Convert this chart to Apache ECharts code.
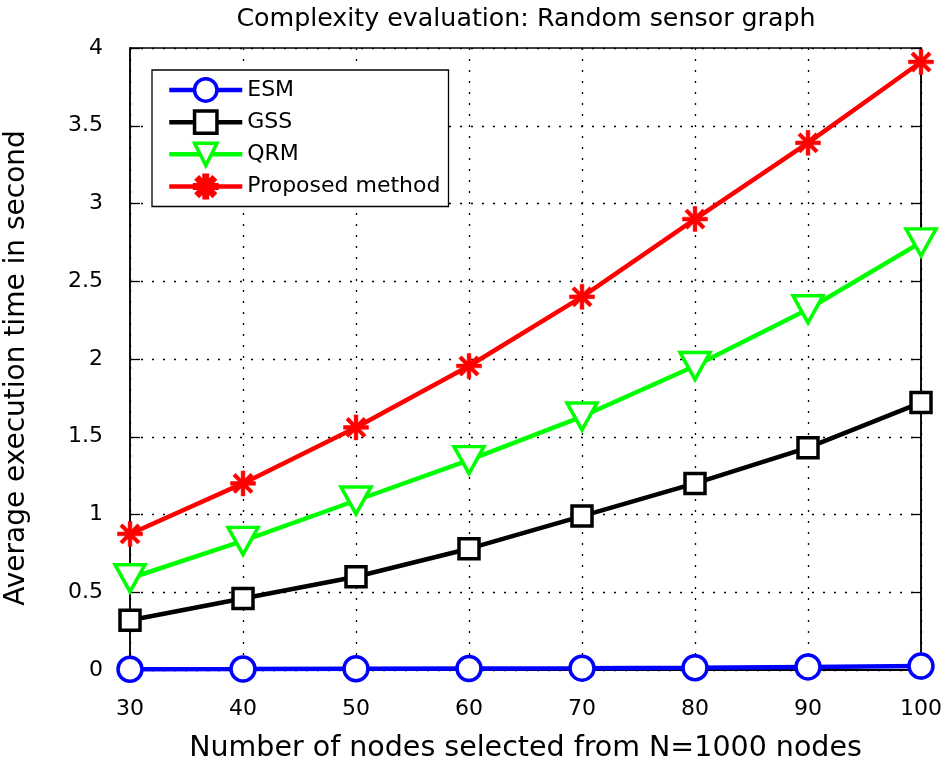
<!DOCTYPE html>
<html>
<head>
<meta charset="utf-8">
<script src="https://cdn.jsdelivr.net/npm/echarts@6/dist/echarts.min.js"></script>
<style>html,body{margin:0;padding:0;background:#fff}#c{width:945px;height:771px}</style>
</head>
<body>
<div id="c"></div>
<script>
const categories = [30, 40, 50, 60, 70, 80, 90, 100];
const esm = [0.005, 0.006, 0.008, 0.010, 0.012, 0.015, 0.020, 0.025];
const gss = [0.32, 0.46, 0.60, 0.78, 0.99, 1.20, 1.43, 1.72];
const qrm = [0.59, 0.83, 1.09, 1.35, 1.63, 1.955, 2.32, 2.75];
const proposed = [0.875, 1.20, 1.56, 1.955, 2.40, 2.90, 3.39, 3.91];
const seriesNames = ['ESM', 'GSS', 'QRM', 'Proposed method'];

const font = '"DejaVu Sans", Verdana, sans-serif';
const asterisk = 'path://M8.5 0L11.5 0L11.5 20L8.5 20Z M0 8.5L20 8.5L20 11.5L0 11.5Z M3.99 1.87L18.13 16.01L16.01 18.13L1.87 3.99Z M18.13 3.99L3.99 18.13L1.87 16.01L16.01 1.87Z';

function pts(arr){ return categories.map((x,i)=>[x, arr[i]]); }

const chart = echarts.init(document.getElementById('c'), null, {renderer:'canvas'});
const tickStyle = {show:true, inside:true, length:10, lineStyle:{color:'#000', width:1.3}};
chart.setOption({
  animation:false,
  backgroundColor:'#fff',
  title:{text:'Complexity evaluation: Random sensor graph', left:521, textAlign:'center', top:2,
    textStyle:{fontFamily:font, fontSize:25.3, fontWeight:'normal', color:'#000'}},
  grid:{left:130, right:24, top:48, bottom:101, show:true, borderColor:'#000', borderWidth:1.5,
    backgroundColor:'transparent', containLabel:false, outerBoundsMode:'none'},
  legend:{
    orient:'vertical', left:152, top:70,
    backgroundColor:'#fff', borderColor:'#000', borderWidth:1.3,
    padding:[7, 8, 7, 15], itemGap:6.3, itemWidth:73, itemHeight:28,
    textStyle:{fontFamily:font, fontSize:22, color:'#000'},
    lineStyle:{width:4.5},
    itemStyle:{borderWidth:3.5},
    data:seriesNames
  },
  xAxis:[{
    type:'value', min:30, max:100, interval:10, position:'bottom',
    name:'Number of nodes selected from N=1000 nodes', nameLocation:'middle', nameGap:64,
    nameTextStyle:{fontFamily:font, fontSize:28.5, color:'#000'},
    axisLine:{show:true, lineStyle:{color:'#000', width:1.5}},
    axisTick:tickStyle,
    axisLabel:{fontFamily:font, fontSize:22, color:'#000', margin:28},
    splitLine:{show:true, lineStyle:{color:'#000', width:1.3, type:[2,9]}}
  },{
    type:'value', min:30, max:100, interval:10, position:'top',
    axisLine:{show:true, lineStyle:{color:'#000', width:1.5}},
    axisTick:tickStyle, axisLabel:{show:false}, splitLine:{show:false}
  }],
  yAxis:[{
    type:'value', min:0, max:4, interval:0.5, position:'left',
    name:'Average execution time in second', nameLocation:'middle', nameGap:99,
    nameTextStyle:{fontFamily:font, fontSize:28, color:'#000', padding:[0, 18, 0, 0]},
    axisLine:{show:true, lineStyle:{color:'#000', width:1.5}},
    axisTick:tickStyle,
    axisLabel:{fontFamily:font, fontSize:22, color:'#000', margin:27, formatter:v=>String(v)},
    splitLine:{show:true, lineStyle:{color:'#000', width:1.3, type:[2,9]}}
  },{
    type:'value', min:0, max:4, interval:0.5, position:'right',
    axisLine:{show:true, lineStyle:{color:'#000', width:1.5}},
    axisTick:tickStyle, axisLabel:{show:false}, splitLine:{show:false}
  }],
  series:[
    {name:seriesNames[0], type:'line', data:pts(esm), symbol:'circle', symbolSize:24, z:5,
      lineStyle:{color:'#0000ff', width:4.5}, itemStyle:{color:'#fff', borderColor:'#0000ff', borderWidth:3.5}},
    {name:seriesNames[1], type:'line', data:pts(gss), symbol:'rect', symbolSize:20, z:4,
      lineStyle:{color:'#000', width:4.5}, itemStyle:{color:'#fff', borderColor:'#000', borderWidth:3.5}},
    {name:seriesNames[2], type:'line', data:pts(qrm), symbol:'triangle', symbolRotate:180, symbolSize:[30,27], z:3,
      lineStyle:{color:'#00ff00', width:4.5}, itemStyle:{color:'#fff', borderColor:'#00ff00', borderWidth:3.5}},
    {name:seriesNames[3], type:'line', data:pts(proposed), symbol:asterisk, symbolSize:25, z:6,
      lineStyle:{color:'#ff0000', width:4.5}, itemStyle:{color:'#ff0000', borderColor:'#ff0000', borderWidth:0.5}}
  ]
});
</script>
</body>
</html>
